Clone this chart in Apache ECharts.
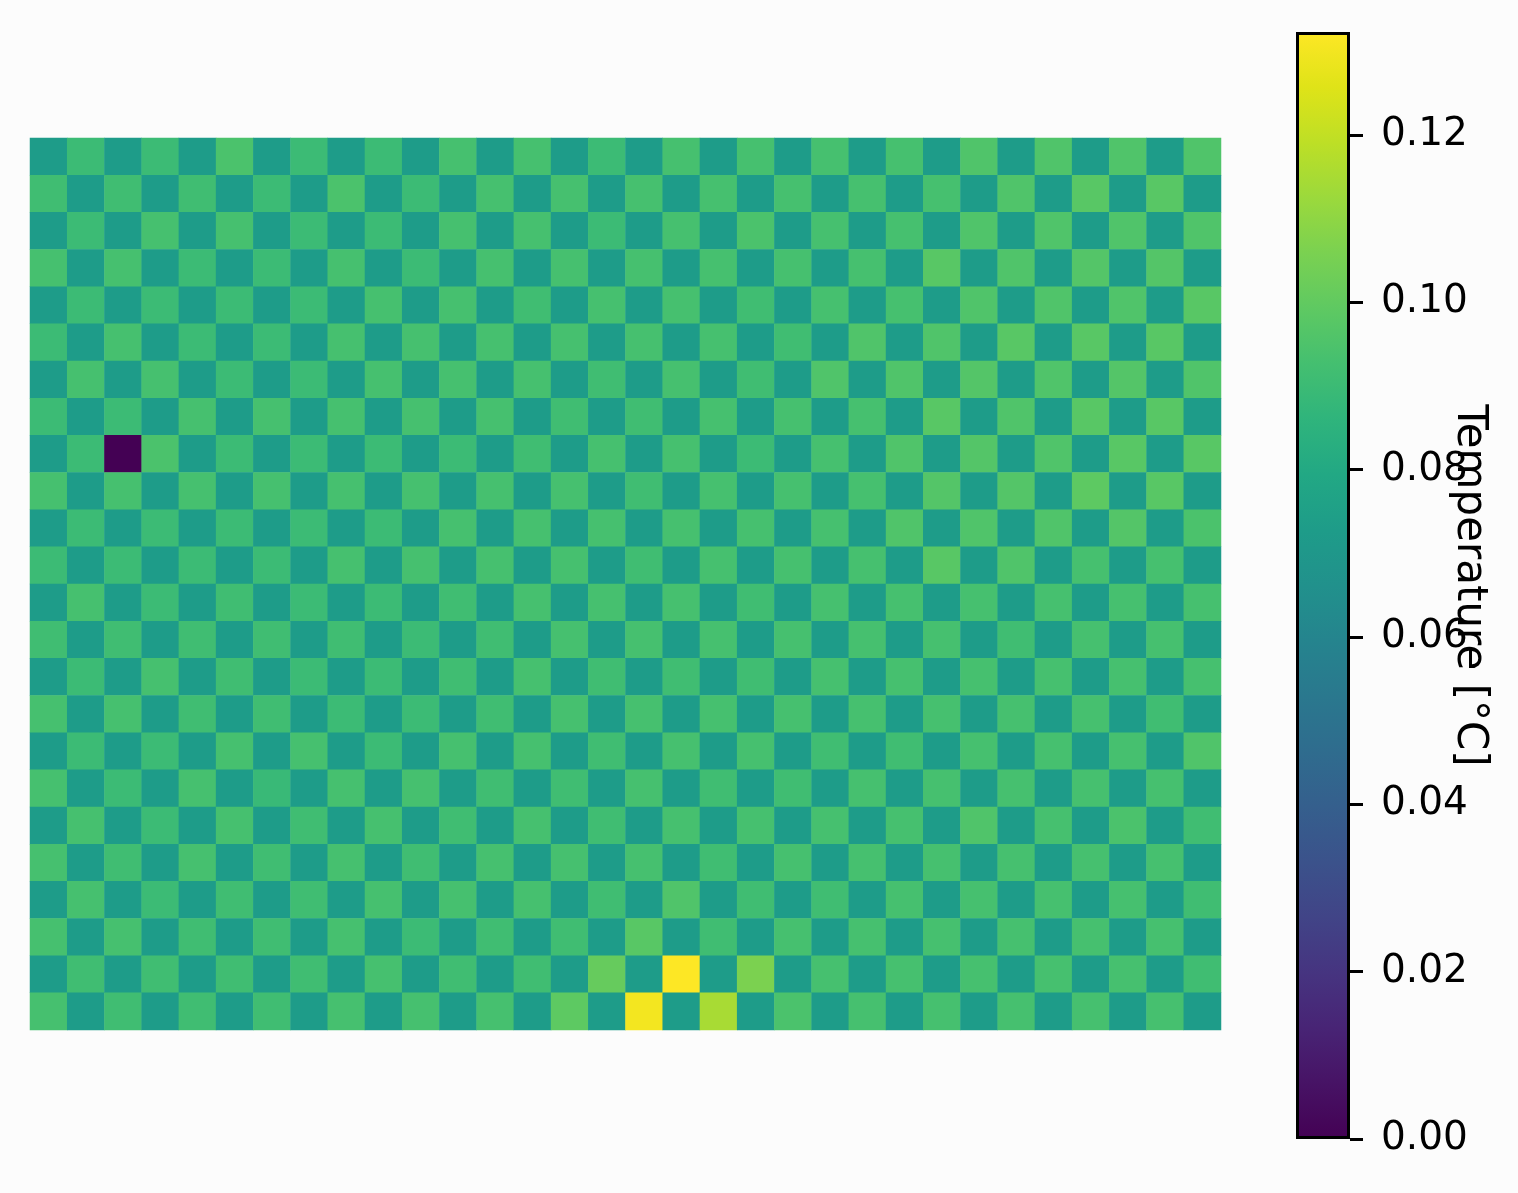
<!DOCTYPE html>
<html>
<head>
<meta charset="utf-8">
<script src="https://cdn.jsdelivr.net/npm/echarts@6/dist/echarts.min.js"></script>
<style>
html,body{margin:0;padding:0;background:#fcfcfc;}
#chart{width:1518px;height:1193px;}
</style>
</head>
<body>
<div id="chart"></div>
<script>
// temperature field, one array per grid row (top row first)
var row0  = [0.073,0.090,0.073,0.090,0.073,0.0945,0.073,0.090,0.073,0.090,0.073,0.093,0.073,0.093,0.073,0.090,0.073,0.093,0.073,0.093,0.073,0.093,0.073,0.093,0.073,0.0956,0.073,0.0956,0.073,0.0956,0.073,0.0956];
var row1  = [0.0915,0.073,0.0915,0.073,0.0915,0.073,0.090,0.073,0.0945,0.073,0.090,0.073,0.093,0.073,0.093,0.073,0.093,0.073,0.093,0.073,0.093,0.073,0.093,0.073,0.093,0.073,0.0956,0.073,0.0976,0.073,0.0976,0.073];
var row2  = [0.073,0.090,0.073,0.093,0.073,0.093,0.073,0.090,0.073,0.090,0.073,0.093,0.073,0.093,0.073,0.090,0.073,0.093,0.073,0.0945,0.073,0.093,0.073,0.093,0.073,0.0956,0.073,0.0956,0.073,0.0956,0.073,0.0956];
var row3  = [0.093,0.073,0.093,0.073,0.090,0.073,0.090,0.073,0.093,0.073,0.090,0.073,0.093,0.073,0.093,0.073,0.093,0.073,0.093,0.073,0.093,0.073,0.093,0.073,0.0976,0.073,0.0956,0.073,0.0966,0.073,0.0966,0.073];
var row4  = [0.073,0.090,0.073,0.090,0.073,0.090,0.073,0.090,0.073,0.093,0.073,0.093,0.073,0.0915,0.073,0.093,0.073,0.093,0.073,0.0915,0.073,0.093,0.073,0.093,0.073,0.0956,0.073,0.0956,0.073,0.0956,0.073,0.0976];
var row5  = [0.090,0.073,0.093,0.073,0.090,0.073,0.090,0.073,0.093,0.073,0.093,0.073,0.093,0.073,0.093,0.073,0.093,0.073,0.093,0.073,0.0915,0.073,0.0956,0.073,0.0956,0.073,0.0976,0.073,0.0976,0.073,0.0976,0.073];
var row6  = [0.073,0.093,0.073,0.093,0.073,0.090,0.073,0.090,0.073,0.093,0.073,0.093,0.073,0.093,0.073,0.0915,0.073,0.093,0.073,0.0915,0.073,0.0956,0.073,0.0956,0.073,0.0966,0.073,0.0956,0.073,0.0966,0.073,0.0956];
var row7  = [0.090,0.073,0.090,0.073,0.093,0.073,0.093,0.073,0.093,0.073,0.093,0.073,0.093,0.073,0.0915,0.073,0.0915,0.073,0.093,0.073,0.093,0.073,0.093,0.073,0.0976,0.073,0.0956,0.073,0.0976,0.073,0.0976,0.073];
var row8  = [0.073,0.090,0.000,0.0945,0.073,0.090,0.073,0.090,0.073,0.090,0.073,0.090,0.073,0.0915,0.073,0.093,0.073,0.093,0.073,0.090,0.073,0.093,0.073,0.0956,0.073,0.0966,0.073,0.0956,0.073,0.0976,0.073,0.0976];
var row9  = [0.093,0.073,0.093,0.073,0.093,0.073,0.093,0.073,0.093,0.073,0.093,0.073,0.093,0.073,0.093,0.073,0.0915,0.073,0.093,0.073,0.093,0.073,0.093,0.073,0.0966,0.073,0.0966,0.073,0.099,0.073,0.0976,0.073];
var row10 = [0.073,0.090,0.073,0.090,0.073,0.090,0.073,0.090,0.073,0.090,0.073,0.093,0.073,0.093,0.073,0.093,0.073,0.093,0.073,0.093,0.073,0.093,0.073,0.0956,0.073,0.0956,0.073,0.0956,0.073,0.0966,0.073,0.0945];
var row11 = [0.090,0.073,0.090,0.073,0.090,0.073,0.090,0.073,0.093,0.073,0.093,0.073,0.093,0.073,0.093,0.073,0.0915,0.073,0.093,0.073,0.093,0.073,0.093,0.073,0.0976,0.073,0.0956,0.073,0.093,0.073,0.093,0.073];
var row12 = [0.073,0.093,0.073,0.090,0.073,0.0915,0.073,0.090,0.073,0.090,0.073,0.0915,0.073,0.093,0.073,0.093,0.073,0.093,0.073,0.0915,0.073,0.093,0.073,0.093,0.073,0.093,0.073,0.093,0.073,0.093,0.073,0.093];
var row13 = [0.0915,0.073,0.0915,0.073,0.0915,0.073,0.0915,0.073,0.0915,0.073,0.090,0.073,0.0915,0.073,0.093,0.073,0.093,0.073,0.093,0.073,0.093,0.073,0.093,0.073,0.093,0.073,0.0915,0.073,0.093,0.073,0.093,0.073];
var row14 = [0.073,0.090,0.073,0.093,0.073,0.0915,0.073,0.090,0.073,0.090,0.073,0.0915,0.073,0.093,0.073,0.0915,0.073,0.0915,0.073,0.0915,0.073,0.093,0.073,0.093,0.073,0.093,0.073,0.093,0.073,0.093,0.073,0.093];
var row15 = [0.093,0.073,0.093,0.073,0.0915,0.073,0.0915,0.073,0.090,0.073,0.090,0.073,0.0915,0.073,0.093,0.073,0.093,0.073,0.093,0.073,0.093,0.073,0.093,0.073,0.093,0.073,0.093,0.073,0.093,0.073,0.0915,0.073];
var row16 = [0.073,0.090,0.073,0.090,0.073,0.093,0.073,0.093,0.073,0.090,0.073,0.093,0.073,0.093,0.073,0.0915,0.073,0.093,0.073,0.093,0.073,0.0915,0.073,0.0915,0.073,0.093,0.073,0.093,0.073,0.093,0.073,0.0956];
var row17 = [0.093,0.073,0.090,0.073,0.093,0.073,0.089,0.073,0.093,0.073,0.093,0.073,0.0915,0.073,0.0915,0.073,0.093,0.073,0.0915,0.073,0.0915,0.073,0.093,0.073,0.093,0.073,0.093,0.073,0.093,0.073,0.093,0.073];
var row18 = [0.073,0.093,0.073,0.090,0.073,0.093,0.073,0.0915,0.073,0.093,0.073,0.0915,0.073,0.093,0.073,0.0915,0.073,0.093,0.073,0.093,0.073,0.093,0.073,0.093,0.073,0.0956,0.073,0.093,0.073,0.0945,0.073,0.0915];
var row19 = [0.093,0.073,0.0915,0.073,0.093,0.073,0.0915,0.073,0.093,0.073,0.0915,0.073,0.093,0.073,0.093,0.073,0.093,0.073,0.0915,0.073,0.093,0.073,0.093,0.073,0.093,0.073,0.093,0.073,0.093,0.073,0.093,0.073];
var row20 = [0.073,0.093,0.073,0.090,0.073,0.0915,0.073,0.0915,0.073,0.093,0.073,0.093,0.073,0.093,0.073,0.0915,0.073,0.0956,0.073,0.0915,0.073,0.0915,0.073,0.093,0.073,0.093,0.073,0.093,0.073,0.093,0.073,0.0915];
var row21 = [0.093,0.073,0.093,0.073,0.0915,0.073,0.0915,0.073,0.093,0.073,0.090,0.073,0.0915,0.073,0.0915,0.073,0.0976,0.073,0.0915,0.073,0.093,0.073,0.093,0.073,0.093,0.073,0.093,0.073,0.093,0.073,0.093,0.073];
var row22 = [0.073,0.0915,0.073,0.0915,0.073,0.0915,0.073,0.0915,0.073,0.093,0.073,0.0915,0.073,0.0915,0.073,0.101,0.073,0.1323,0.073,0.106,0.073,0.093,0.073,0.093,0.073,0.093,0.073,0.093,0.073,0.093,0.073,0.0915];
var row23 = [0.093,0.073,0.0915,0.073,0.0915,0.073,0.0915,0.073,0.093,0.073,0.093,0.073,0.093,0.073,0.099,0.073,0.130,0.073,0.115,0.073,0.0945,0.073,0.093,0.073,0.093,0.073,0.093,0.073,0.093,0.073,0.093,0.073];

var temperature = [row0,row1,row2,row3,row4,row5,row6,row7,row8,row9,row10,row11,
                   row12,row13,row14,row15,row16,row17,row18,row19,row20,row21,row22,row23];

// colorbar
var cbMin = 0;
var cbMax = 0.1323;
var cbTicks = [0, 0.02, 0.04, 0.06, 0.08, 0.10, 0.12];
var cbLabel = 'Temperature [°C]';

var viridis = ['#440154','#471365','#482475','#463480','#414487','#3b528b','#355f8d','#2f6c8e',
               '#2a788e','#25848e','#21918c','#1e9c89','#22a884','#2fb47c','#44bf70','#5ec962',
               '#7ad151','#9bd93c','#bddf26','#dfe318','#fde725'];

var xCells = [], yCells = [], cells = [];
for (var c = 0; c < temperature[0].length; c++) xCells.push(c);
for (var r = 0; r < temperature.length; r++) {
    yCells.push(r);
    for (var c = 0; c < temperature[r].length; c++) {
        cells.push([c, r, temperature[r][c]]);
    }
}

var stops = [];
for (var i = 0; i < viridis.length; i++) {
    stops.push({offset: i / (viridis.length - 1), color: viridis[i]});
}

var chart = echarts.init(document.getElementById('chart'), null, {renderer: 'canvas'});

var option = {
    backgroundColor: '#fcfcfc',
    animation: false,
    textStyle: {fontFamily: 'DejaVu Sans'},
    grid: [
        {left: 30, top: 138, width: 1191, height: 892, show: false},
        {left: 1296, top: 32, width: 54, height: 1107, show: false}
    ],
    xAxis: [
        {type: 'category', gridIndex: 0, data: xCells, show: false},
        {type: 'category', gridIndex: 1, data: ['cb'], show: false}
    ],
    yAxis: [
        {type: 'category', gridIndex: 0, data: yCells, inverse: true, show: false},
        {
            type: 'value', gridIndex: 1, position: 'right',
            min: cbMin, max: cbMax,
            axisLine: {show: false},
            splitLine: {show: false},
            axisTick: {
                show: true, length: 13, customValues: cbTicks,
                lineStyle: {color: '#000', width: 3}
            },
            axisLabel: {
                show: true, margin: 31, customValues: cbTicks,
                color: '#000', fontSize: 39, fontFamily: 'DejaVu Sans',
                padding: [7, 0, 0, 0],
                formatter: function (v) { return v.toFixed(2); }
            },
            name: cbLabel,
            nameLocation: 'middle',
            nameRotate: -90,
            nameGap: 98,
            nameMoveOverlap: false,
            nameTextStyle: {color: '#000', fontSize: 42, fontFamily: 'DejaVu Sans'}
        }
    ],
    visualMap: {
        show: false,
        type: 'continuous',
        seriesIndex: 0,
        min: cbMin,
        max: cbMax,
        inRange: {color: viridis}
    },
    series: [
        {
            type: 'heatmap',
            xAxisIndex: 0, yAxisIndex: 0,
            data: cells,
            itemStyle: {borderWidth: 0},
            emphasis: {disabled: true}
        },
        {
            type: 'bar',
            xAxisIndex: 1, yAxisIndex: 1,
            data: [cbMax],
            barWidth: '100%',
            silent: true,
            itemStyle: {
                color: new echarts.graphic.LinearGradient(0, 1, 0, 0, stops),
                borderColor: '#000',
                borderWidth: 3
            }
        }
    ]
};

chart.setOption(option);
</script>
</body>
</html>
